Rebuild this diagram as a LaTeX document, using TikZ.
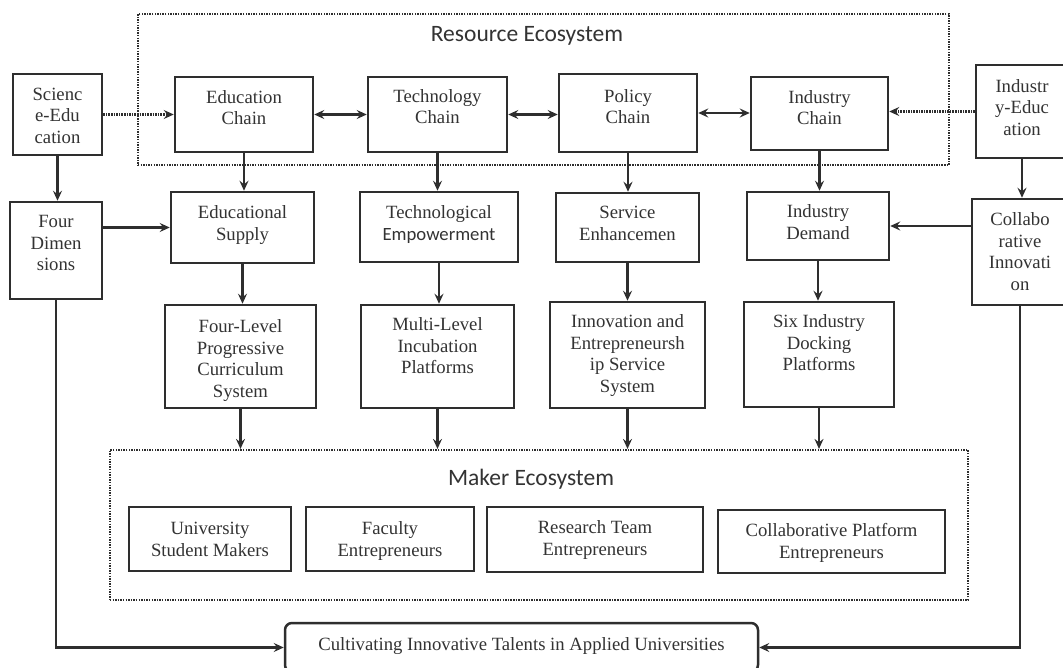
\documentclass[tikz,border=0pt]{standalone}
\usepackage{fontspec}
\setmainfont{Liberation Serif}
\newfontfamily\calibri{Carlito}
\usetikzlibrary{arrows.meta}
\definecolor{linec}{HTML}{2E2E2E}
\definecolor{textc}{HTML}{333333}
\newcommand\inbox[4]{\parbox[c][#2bp][t]{#1bp}{\centering\vspace*{#3bp}\strut#4}}
\tikzset{
  box/.style={draw=linec, line width=2.5bp, inner sep=0pt, text=textc,
    font=\fontsize{18.7bp}{21.5bp}\selectfont},
  frame/.style={draw=linec, line width=2.2bp, dash pattern=on 1.5bp off 1.1bp, inner sep=0pt},
  title/.style={text=textc, font=\calibri\fontsize{23.5bp}{26bp}\selectfont, anchor=base, inner sep=0pt},
  tip/.style={Stealth[length=10bp,width=9bp,inset=3.5bp]},
  arr/.style={draw=linec, line width=2.3bp, -{Stealth[length=10bp,width=9bp,inset=3.5bp]}},
  darr/.style={draw=linec, line width=2.3bp, {Stealth[length=10bp,width=9bp,inset=3.5bp]}-{Stealth[length=10bp,width=9bp,inset=3.5bp]}},
  dotarr/.style={draw=linec, line width=2.2bp, dash pattern=on 1.5bp off 1.1bp, -{Stealth[length=10bp,width=9bp,inset=3.5bp]}}
}
\begin{document}
\begin{tikzpicture}[x=1bp,y=-1bp]
\useasboundingbox (0,0) rectangle (1063,668);
\fill[white] (0,0) rectangle (1063,668);
% frames
\node[frame, minimum width=811bp, minimum height=151bp] (resource) at (543.5,89.5) {};
\node[title] (restitle) at (527,42) {Resource Ecosystem};
\node[frame, minimum width=858bp, minimum height=150bp] (maker) at (539,525) {};
\node[title] (makertitle) at (531,485) {Maker Ecosystem};
% row 1
\node[box] (sci) at (57.5,114.5) {\inbox{89}{81}{11.45}{Scienc\\e-Edu\\cation}};
\node[box] (educhain) at (244,114.5) {\inbox{138}{75}{11.45}{Education\\Chain}};
\node[box] (techchain) at (437.5,114.5) {\inbox{139}{75}{10.45}{Technology\\Chain}};
\node[box] (polchain) at (628,113) {\inbox{138}{78}{13.45}{Policy\\Chain}};
\node[box] (indchain) at (819.5,113.5) {\inbox{137}{73}{11.45}{Industry\\Chain}};
\node[box] (inded) at (1022,111.5) {\inbox{92}{93}{12.45}{Industr\\y-Educ\\ation}};
% row 2
\node[box] (fourdim) at (56,250.5) {\inbox{92}{97}{10.45}{Four\\Dimen\\sions}};
\node[box] (edsup) at (242.5,227.5) {\inbox{143}{71}{11.45}{Educational\\Supply}};
\node[box] (techemp) at (439,227) {\inbox{158}{70}{11.45}{Technological\\{\calibri Empowerment}}};
\node[box] (service) at (627.5,227.5) {\inbox{143}{69}{10.45}{Service\\Enhancemen}};
\node[box] (demand) at (818,226) {\inbox{142}{68}{10.45}{Industry\\Demand}};
\node[box] (collab) at (1020,252) {\inbox{96}{106}{11.45}{Collabo\\rative\\Innovati\\on}};
% row 3
\node[box] (fourlevel) at (240.5,356.5) {\inbox{151}{103}{12.45}{Four-Level\\Progressive\\Curriculum\\System}};
\node[box] (multi) at (437.5,356.5) {\inbox{153}{103}{10.45}{Multi-Level\\Incubation\\Platforms}};
\node[box] (innov) at (627.5,355) {\inbox{155}{106}{10.45}{Innovation and\\Entrepreneursh\\ip Service\\System}};
\node[box] (six) at (819,354.5) {\inbox{150}{105}{10.45}{Six Industry\\Docking\\Platforms}};
% maker row
\node[box] (univ) at (210,539) {\inbox{162}{64}{12.45}{University\\Student Makers}};
\node[box] (faculty) at (390,539) {\inbox{168}{64}{12.45}{Faculty\\Entrepreneurs}};
\node[box] (research) at (595,539.5) {\inbox{216}{65}{11.45}{Research Team\\Entrepreneurs}};
\node[box] (collplat) at (831.5,541.5) {\inbox{227}{63}{11.45}{Collaborative Platform\\Entrepreneurs}};
% bottom
\node[box, rounded corners=7bp] (cult) at (521.5,647.5) {\inbox{473}{49}{12.45}{Cultivating Innovative Talents in Applied Universities}};
% connectors row 1
\draw[dotarr] (sci.east) -- (educhain.west);
\draw[darr] (educhain.east) -- (techchain.west);
\draw[darr] (techchain.east) -- (techchain.east -| polchain.west);
\draw[darr] (polchain.east) -- (polchain.east -| indchain.west);
\draw[dotarr] (inded.west) -- (inded.west -| indchain.east);
% downward
\draw[arr] (sci.south) -- (sci.south |- fourdim.north);
\draw[arr] (fourdim.east |- edsup.west) -- (edsup.west);
\draw[arr] (educhain.south) -- (educhain.south |- edsup.north);
\draw[arr] (techchain.south) -- (techchain.south |- techemp.north);
\draw[arr] (polchain.south) -- (polchain.south |- service.north);
\draw[arr] (indchain.south) -- (indchain.south |- demand.north);
\draw[arr] (edsup.south) -- (edsup.south |- fourlevel.north);
\draw[arr] (techemp.south) -- (techemp.south |- multi.north);
\draw[arr] (service.south) -- (service.south |- innov.north);
\draw[arr] (demand.south) -- (demand.south |- six.north);
\draw[arr] (fourlevel.south) -- (fourlevel.south |- maker.north);
\draw[arr] (multi.south) -- (multi.south |- maker.north);
\draw[arr] (innov.south) -- (innov.south |- maker.north);
\draw[arr] (six.south) -- (six.south |- maker.north);
\draw[arr] (inded.south) -- (inded.south |- collab.north);
\draw[arr] (collab.west |- demand.east) -- (demand.east);
\draw[arr] (fourdim.south) |- (cult.west);
\draw[arr] (collab.south) |- (cult.east);
\end{tikzpicture}
\end{document}
